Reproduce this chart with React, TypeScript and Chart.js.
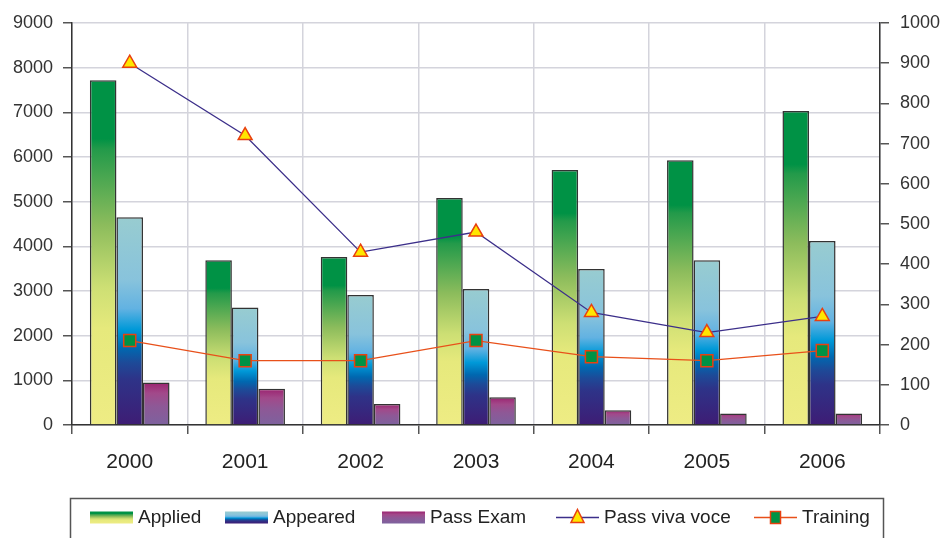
import React, { useEffect, useRef } from 'react';
import { Chart, registerables } from 'chart.js';

Chart.register(...registerables);

const categories = ['2000', '2001', '2002', '2003', '2004', '2005', '2006'];
const applied = [7720, 3690, 3760, 5080, 5710, 5930, 7030];
const appeared = [4650, 2630, 2910, 3045, 3490, 3690, 4120];
const passExam = [950, 810, 470, 620, 330, 260, 260];
const passVivaVoce = [900, 720, 430, 480, 280, 230, 270];
const training = [210, 160, 160, 210, 170, 160, 185];
const seriesNames = ['Applied', 'Appeared', 'Pass Exam', 'Pass viva voce', 'Training'];
const leftMax = 9000;
const leftStep = 1000;
const rightMax = 1000;
const rightStep = 100;

const FONT = "'Liberation Sans', Arial, sans-serif";

const appliedStops: [number, string][] = [
  [0, '#009245'], [0.17, '#009245'], [0.2, '#239a4a'], [0.42, '#8cbc5c'],
  [0.6, '#cddf74'], [0.72, '#e6e97c'], [1, '#eeec84'],
];
const appearedStops: [number, string][] = [
  [0, '#98ccd0'], [0.3, '#88c3dc'], [0.44, '#62b2e2'], [0.54, '#0099d8'],
  [0.63, '#0068b0'], [0.7, '#1d4a98'], [0.78, '#2e3388'], [1, '#3e1c74'],
];
const passExamStops: [number, string][] = [
  [0, '#9b2370'], [0.25, '#a2498a'], [0.55, '#8e5896'], [1, '#7d629e'],
];

function makeGradient(ctx: CanvasRenderingContext2D, top: number, bottom: number, stops: [number, string][]) {
  const g = ctx.createLinearGradient(0, top, 0, bottom);
  stops.forEach(([o, c]) => g.addColorStop(o, c));
  return g;
}

function barFill(stops: [number, string][]) {
  return (c: any) => {
    const chart = c.chart;
    const yScale = chart.scales?.y;
    if (c.type !== 'data' || !yScale || !chart.chartArea) return stops[Math.floor(stops.length / 2)][1];
    const top = yScale.getPixelForValue(c.raw);
    const bottom = yScale.getPixelForValue(0);
    if (!isFinite(top) || !isFinite(bottom) || top === bottom) return stops[0][1];
    return makeGradient(chart.ctx, top, bottom, stops);
  };
}

const legendPlugin = {
  id: 'boxLegend',
  afterDraw(chart: any) {
    const ctx: CanvasRenderingContext2D = chart.ctx;
    ctx.save();
    ctx.strokeStyle = '#555';
    ctx.lineWidth = 1.5;
    ctx.strokeRect(70.5, 498.5, 813, 60);
    const starts = [90, 225, 382, 556, 754];
    const sw = 43;
    const cy = 517.5;
    const stopsList = [appliedStops, appearedStops, passExamStops];
    ctx.font = `19px ${FONT}`;
    ctx.fillStyle = '#222';
    ctx.textBaseline = 'middle';
    seriesNames.forEach((name, i) => {
      const x = starts[i];
      if (i < 3) {
        ctx.fillStyle = makeGradient(ctx, cy - 6, cy + 6, stopsList[i]);
        ctx.fillRect(x, cy - 6, sw, 12);
      } else {
        const isViva = i === 3;
        ctx.strokeStyle = isViva ? '#3c2f8a' : '#e8501a';
        ctx.lineWidth = 1.3;
        ctx.beginPath();
        ctx.moveTo(x, cy);
        ctx.lineTo(x + sw, cy);
        ctx.stroke();
        const mx = x + sw / 2;
        ctx.lineWidth = 1.5;
        ctx.strokeStyle = '#e84010';
        if (isViva) {
          ctx.fillStyle = '#ffe600';
          ctx.beginPath();
          ctx.moveTo(mx, cy - 8);
          ctx.lineTo(mx + 6.5, cy + 5);
          ctx.lineTo(mx - 6.5, cy + 5);
          ctx.closePath();
          ctx.fill();
          ctx.stroke();
        } else {
          ctx.fillStyle = '#009245';
          ctx.fillRect(mx - 5, cy - 6, 10, 12);
          ctx.strokeRect(mx - 5, cy - 6, 10, 12);
        }
      }
      ctx.fillStyle = '#222';
      ctx.fillText(name, x + sw + 5, cy);
    });
    ctx.restore();
  },
};

export default function App() {
  const ref = useRef<HTMLCanvasElement | null>(null);

  useEffect(() => {
    if (!ref.current) return;
    const gridColor = '#d4d4dc';
    const tickColor = '#555';
    const plain = (v: any) => String(v);
    const chart = new Chart(ref.current, {
      type: 'bar',
      data: {
        labels: categories,
        datasets: [
          {
            type: 'line',
            label: seriesNames[3],
            data: passVivaVoce,
            yAxisID: 'y1',
            borderColor: '#3c2f8a',
            borderWidth: 1.3,
            pointStyle: 'triangle',
            pointRadius: 8,
            pointBackgroundColor: '#ffe600',
            pointBorderColor: '#e84010',
            pointBorderWidth: 1.5,
            tension: 0,
            order: 0,
          },
          {
            type: 'line',
            label: seriesNames[4],
            data: training,
            yAxisID: 'y1',
            borderColor: '#e8501a',
            borderWidth: 1.3,
            pointStyle: 'rect',
            pointRadius: 8.5,
            pointBackgroundColor: '#009245',
            pointBorderColor: '#e84010',
            pointBorderWidth: 1.5,
            tension: 0,
            order: 0,
          },
          {
            label: seriesNames[0],
            data: applied,
            yAxisID: 'y',
            backgroundColor: barFill(appliedStops),
            borderColor: '#333',
            borderWidth: 1.5,
            categoryPercentage: 0.69,
            barPercentage: 1,
            order: 1,
          },
          {
            label: seriesNames[1],
            data: appeared,
            yAxisID: 'y',
            backgroundColor: barFill(appearedStops),
            borderColor: '#333',
            borderWidth: 1.5,
            categoryPercentage: 0.69,
            barPercentage: 1,
            order: 1,
          },
          {
            label: seriesNames[2],
            data: passExam,
            yAxisID: 'y',
            backgroundColor: barFill(passExamStops),
            borderColor: '#333',
            borderWidth: 1.5,
            categoryPercentage: 0.69,
            barPercentage: 1,
            order: 1,
          },
        ] as any,
      },
      options: {
        animation: false,
        responsive: true,
        maintainAspectRatio: false,
        layout: { padding: { top: 23, left: 0, right: 0, bottom: 0 } },
        plugins: {
          legend: { display: false },
          title: { display: false },
          tooltip: { enabled: false },
        },
        scales: {
          x: {
            type: 'category',
            grid: { offset: true, color: gridColor, lineWidth: 1.5, tickLength: 9, tickColor },
            border: { color: '#333', width: 1.5 },
            ticks: { color: '#222', font: { family: FONT, size: 21 }, padding: 16 },
            afterFit: (s: any) => { s.height = 113; },
          },
          y: {
            position: 'left',
            min: 0,
            max: leftMax,
            grid: { color: gridColor, lineWidth: 1.5, tickLength: 9, tickColor },
            border: { color: '#333', width: 1.5 },
            ticks: { stepSize: leftStep, color: '#333', font: { family: FONT, size: 18 }, padding: 10, callback: plain },
            afterFit: (s: any) => { s.width = 72; },
          },
          y1: {
            position: 'right',
            min: 0,
            max: rightMax,
            grid: { drawOnChartArea: false, tickLength: 9, tickColor, lineWidth: 1.5 },
            border: { color: '#333', width: 1.5 },
            ticks: { stepSize: rightStep, color: '#333', font: { family: FONT, size: 18 }, padding: 11, callback: plain },
            afterFit: (s: any) => { s.width = 64; },
          },
        },
      } as any,
      plugins: [legendPlugin],
    });
    return () => chart.destroy();
  }, []);

  return (
    <div style={{ position: 'fixed', left: 0, top: 0, width: 944, height: 538, background: '#fff' }}>
      <canvas ref={ref} />
    </div>
  );
}
